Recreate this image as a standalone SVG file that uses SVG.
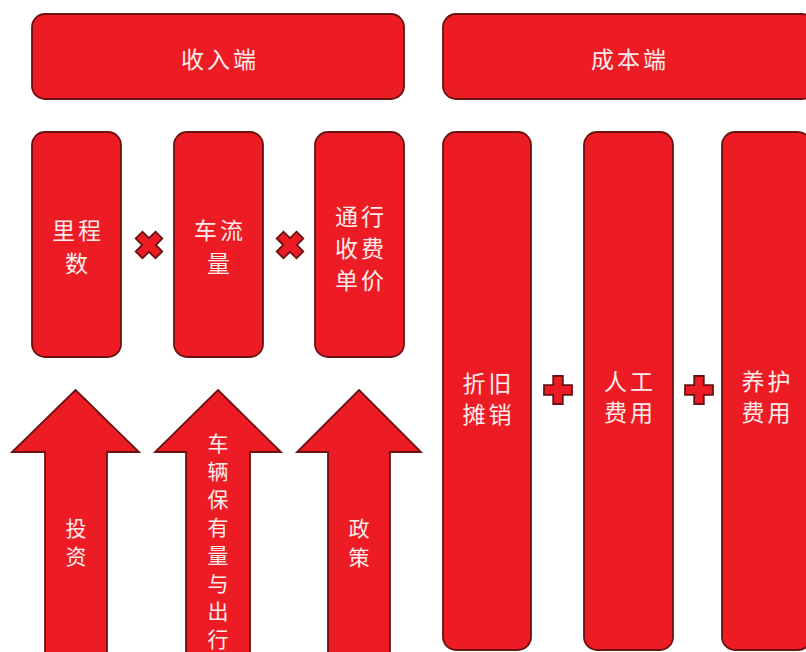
<svg xmlns="http://www.w3.org/2000/svg" width="806" height="652" viewBox="0 0 806 652">
<defs>
<style>
.b{fill:#ed1c24;stroke:#6a1212;stroke-width:1.8}
.t{fill:#fdecec;font-family:"Noto Sans CJK SC","Noto Sans CJK JP",sans-serif;font-size:23px;letter-spacing:3px;text-anchor:middle}
.s{font-size:21px;letter-spacing:0}
</style>
<path id="plus" d="M-4.8,-14 H4.8 V-4.8 H14 V4.8 H4.8 V14 H-4.8 V4.8 H-14 V-4.8 H-4.8 Z"/>
</defs>
<rect width="806" height="652" fill="#ffffff"/>
<g id="income"><rect class="b" x="32" y="14" width="372" height="85" rx="13"/><text class="t" x="220" y="68">收入端</text></g>
<g id="cost"><rect class="b" x="443" y="14" width="372" height="85" rx="13"/><text class="t" x="630" y="68">成本端</text></g>
<g id="mileage"><rect class="b" x="32" y="132" width="89" height="225" rx="13"/><text class="t" x="78" y="239">里程</text><text class="t" x="78" y="272">数</text></g>
<g id="traffic"><rect class="b" x="174" y="132" width="89" height="225" rx="13"/><text class="t" x="220" y="239">车流</text><text class="t" x="220" y="272">量</text></g>
<g id="toll"><rect class="b" x="315" y="132" width="89" height="225" rx="13"/><text class="t" x="361" y="225">通行</text><text class="t" x="361" y="257">收费</text><text class="t" x="361" y="289">单价</text></g>
<g id="depreciation"><rect class="b" x="443" y="132" width="88" height="518" rx="13"/><text class="t" x="488.5" y="392">折旧</text><text class="t" x="488.5" y="423">摊销</text></g>
<g id="labor"><rect class="b" x="584" y="132" width="89" height="518" rx="13"/><text class="t" x="630" y="390">人工</text><text class="t" x="630" y="421">费用</text></g>
<g id="maintenance"><rect class="b" x="722" y="132" width="89" height="518" rx="13"/><text class="t" x="767.5" y="390">养护</text><text class="t" x="767.5" y="421">费用</text></g>
<g id="connectors">
<use href="#plus" class="b" transform="translate(149,245) rotate(45)"/>
<use href="#plus" class="b" transform="translate(290,245) rotate(45)"/>
<use href="#plus" class="b" transform="translate(558,390)"/>
<use href="#plus" class="b" transform="translate(699,390)"/>
</g>
<g id="investment"><path class="b" d="M75.5,390 L139,452 H107 V660 H45 V452 H12 Z"/><text class="t s" x="76" y="536">投</text><text class="t s" x="76" y="564">资</text></g>
<g id="ownership"><path class="b" d="M218,390 L281,452 H250 V660 H186 V452 H155 Z"/>
<text class="t s" x="218" y="451">车</text><text class="t s" x="218" y="479">辆</text><text class="t s" x="218" y="507">保</text><text class="t s" x="218" y="535">有</text><text class="t s" x="218" y="563">量</text><text class="t s" x="218" y="591">与</text><text class="t s" x="218" y="619">出</text><text class="t s" x="218" y="647">行</text></g>
<g id="policy"><path class="b" d="M359,390 L421,452 H390 V660 H328 V452 H297 Z"/><text class="t s" x="359" y="536">政</text><text class="t s" x="359" y="565">策</text></g>
</svg>
